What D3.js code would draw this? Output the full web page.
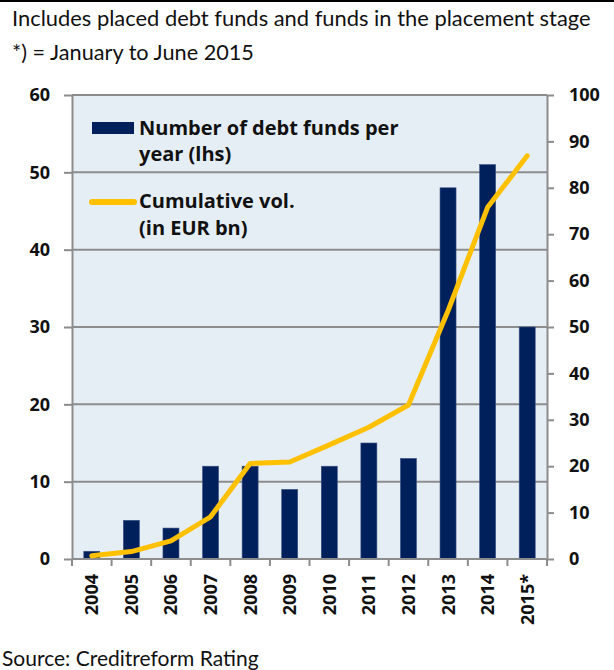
<!DOCTYPE html>
<html>
<head>
<meta charset="utf-8">
<script src="https://cdn.jsdelivr.net/npm/d3@7"></script>
<style>
  body { margin: 0; background: #fff; }
  text { font-family: Lato, "Open Sans", sans-serif; fill: #111; }
  .bold { font-family: "Open Sans", Lato, sans-serif; font-weight: bold; }
</style>
</head>
<body>
<script>

// data
var years = ["2004", "2005", "2006", "2007", "2008", "2009", "2010", "2011", "2012", "2013", "2014", "2015*"];
var funds = [1, 5, 4, 12, 12, 9, 12, 15, 13, 48, 51, 30];
var cumVol = [0.7, 1.6, 3.9, 9.1, 20.6, 20.9, 24.6, 28.4, 33.2, 53.5, 75.8, 86.9];
var leftTicks = [0, 10, 20, 30, 40, 50, 60];
var rightTicks = [0, 10, 20, 30, 40, 50, 60, 70, 80, 90, 100];

var navy = "#00205b", gold = "#ffc000", grey = "#8c8c8c";

var svg = d3.select("body").append("svg").attr("width", 614).attr("height", 670);

var plot = { left: 72, right: 547, top: 95, bottom: 559 };

var band = d3.scaleBand().domain(years).range([plot.left, plot.right]);
var yL = d3.scaleLinear().domain([0, 60]).range([plot.bottom, plot.top]);
var yR = d3.scaleLinear().domain([0, 100]).range([plot.bottom, plot.top]);

// top rule
svg.append("rect").attr("x", 0).attr("y", 0).attr("width", 614).attr("height", 2).attr("fill", "#000");

// notes
svg.append("text").attr("x", 12).attr("y", 26).style("font-size", "21.9px")
  .text("Includes placed debt funds and funds in the placement stage");
svg.append("text").attr("x", 12).attr("y", 60).style("font-size", "21.7px")
  .text("*) = January to June 2015");
svg.append("text").attr("x", 2).attr("y", 666).style("font-size", "21px")
  .text("Source: Creditreform Rating");

// plot background
svg.append("rect")
  .attr("x", plot.left).attr("y", plot.top)
  .attr("width", plot.right - plot.left).attr("height", plot.bottom - plot.top)
  .attr("fill", "#e6eef5");

// gridlines at left ticks
svg.append("g").selectAll("line")
  .data(leftTicks.slice(1))
  .enter().append("line")
  .attr("x1", plot.left).attr("x2", plot.right)
  .attr("y1", d => yL(d)).attr("y2", d => yL(d))
  .attr("stroke", grey).attr("stroke-width", 2);

// bars
svg.append("g").selectAll("rect")
  .data(funds)
  .enter().append("rect")
  .attr("x", (d, i) => band(years[i]) + band.bandwidth() / 2 - 8)
  .attr("width", 16)
  .attr("y", d => yL(d))
  .attr("height", d => yL(0) - yL(d))
  .attr("fill", navy)
  .attr("stroke", "#3b5282").attr("stroke-width", 0.6);

// axes
var leftAxis = d3.axisLeft(yL).tickValues(leftTicks).tickSize(8).tickPadding(14).tickFormat(d3.format("d"));
var rightAxis = d3.axisRight(yR).tickValues(rightTicks).tickSize(7).tickPadding(15).tickFormat(d3.format("d"));

function styleAxis(g) {
  g.select(".domain").attr("stroke", grey).attr("stroke-width", 2);
  g.selectAll(".tick line").attr("stroke", grey).attr("stroke-width", 2);
  g.selectAll("text").attr("class", "bold").style("font-size", "18px").attr("fill", "#111");
}

svg.append("g").attr("transform", `translate(${plot.left},0)`)
  .call(leftAxis.tickSizeOuter(0)).call(styleAxis);

svg.append("g").attr("transform", `translate(${plot.right},0)`)
  .call(rightAxis.tickSizeOuter(0)).call(styleAxis);

// x axis: baseline plus ticks at band boundaries
var xg = svg.append("g").attr("transform", `translate(0,${plot.bottom})`);
xg.append("line").attr("x1", plot.left).attr("x2", plot.right)
  .attr("stroke", grey).attr("stroke-width", 2);
xg.selectAll(".xtick")
  .data(years.concat(["end"]))
  .enter().append("line")
  .attr("class", "xtick")
  .attr("x1", (d, i) => i < years.length ? band(d) : plot.right)
  .attr("x2", (d, i) => i < years.length ? band(d) : plot.right)
  .attr("y1", 0).attr("y2", 7)
  .attr("stroke", grey).attr("stroke-width", 2);
xg.selectAll(".xlabel")
  .data(years)
  .enter().append("text")
  .attr("class", "xlabel bold")
  .attr("transform", d => `translate(${band(d) + band.bandwidth() / 2 + 6.5},15) rotate(-90)`)
  .attr("text-anchor", "end")
  .style("font-size", "18px")
  .text(d => d);

// cumulative volume line
var line = d3.line()
  .x((d, i) => band(years[i]) + band.bandwidth() / 2)
  .y(d => yR(d));

svg.append("path")
  .datum(cumVol)
  .attr("d", line)
  .attr("fill", "none")
  .attr("stroke", gold).attr("stroke-width", 5)
  .attr("stroke-linecap", "round").attr("stroke-linejoin", "round");

// legend
var legend = svg.append("g");
legend.append("rect").attr("x", 92).attr("y", 122).attr("width", 42).attr("height", 12).attr("fill", navy);
legend.append("line").attr("x1", 92).attr("x2", 134).attr("y1", 202).attr("y2", 202)
  .attr("stroke", gold).attr("stroke-width", 6).attr("stroke-linecap", "round");

var legendLines = [
  ["Number of debt funds per", 135],
  ["year (lhs)", 161],
  ["Cumulative vol.", 208],
  ["(in EUR bn)", 235]
];
legend.selectAll(".ltext")
  .data(legendLines)
  .enter().append("text")
  .attr("class", "ltext bold")
  .attr("x", 139).attr("y", d => d[1])
  .style("font-size", "20px")
  .text(d => d[0]);

</script>
</body>
</html>
